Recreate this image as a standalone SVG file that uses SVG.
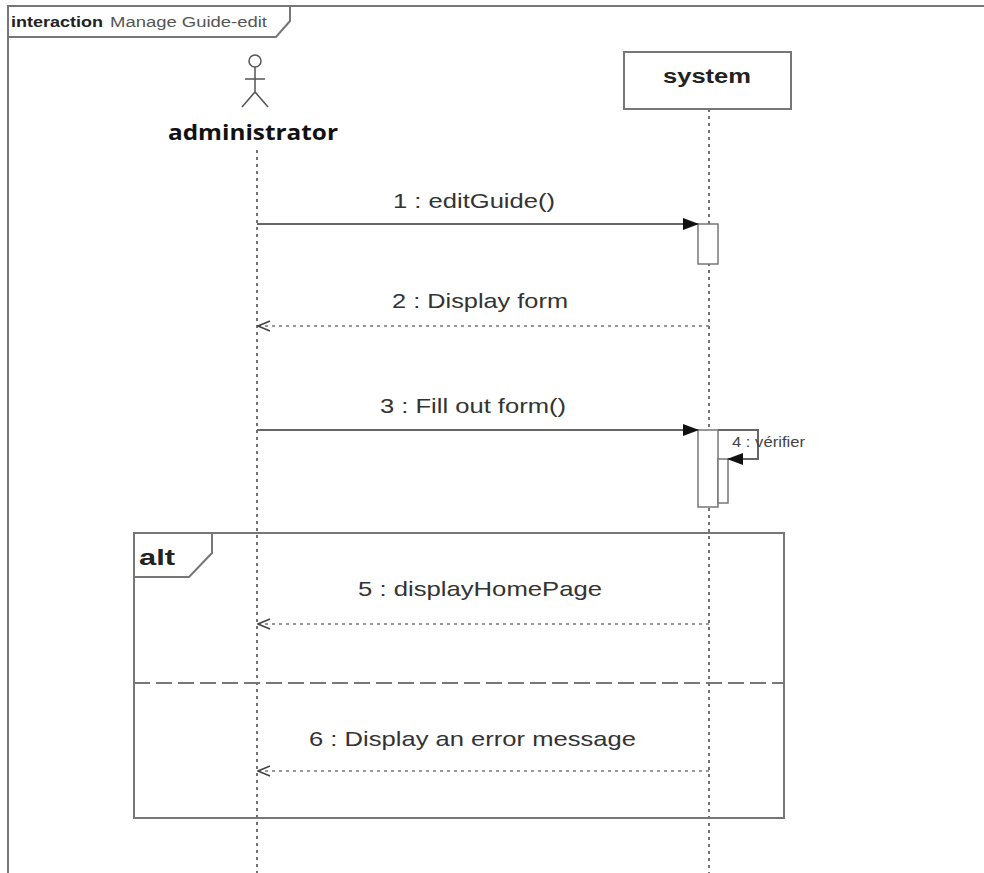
<svg xmlns="http://www.w3.org/2000/svg" width="984" height="873" viewBox="0 0 984 873">
<style>
.frame{fill:none;stroke:#777;stroke-width:2}
.life{stroke:#444;stroke-width:1.5;stroke-dasharray:3,4;fill:none}
.act{fill:#fff;stroke:#777;stroke-width:1.5}
.msg{stroke:#666;stroke-width:2;fill:none}
.ret{stroke:#777;stroke-width:1.5;stroke-dasharray:3,4;fill:none}
.lbl{font-family:"Liberation Sans",Arial,sans-serif;font-size:21px;fill:#333}
.bold{font-family:"Liberation Sans",Arial,sans-serif;font-weight:bold;fill:#222}
</style>
<defs>
<marker id="filled" markerWidth="16" markerHeight="12" refX="15" refY="6" orient="auto" markerUnits="userSpaceOnUse">
<path d="M0,0 L16,6 L0,12 Z" fill="#111"/>
</marker>
<marker id="open" markerWidth="14" markerHeight="12" refX="13" refY="6" orient="auto" markerUnits="userSpaceOnUse">
<path d="M1,1 L13,6 L1,11" fill="none" stroke="#444" stroke-width="1.5"/>
</marker>
</defs>
<rect width="984" height="873" fill="#fff"/>
<g id="frame">
<path class="frame" d="M8,880 L8,6 L990,6"/>
<path class="frame" d="M8,37 L276,37 L290,21 L290,6"/>
<text x="11" y="27" class="bold" font-size="14" textLength="92" lengthAdjust="spacingAndGlyphs">interaction</text>
<text x="110" y="27" font-family="Liberation Sans,Arial,sans-serif" font-size="14" fill="#555" textLength="157" lengthAdjust="spacingAndGlyphs">Manage Guide-edit</text>
</g>
<g id="administrator">
<circle cx="255" cy="61" r="6" fill="#fff" stroke="#555" stroke-width="1.5"/>
<path d="M255,67 V92 M245,79 H265 M242,107 L255,92 L268,107" fill="none" stroke="#555" stroke-width="1.5"/>
<text x="168" y="140" font-family="Open Sans,Noto Sans,sans-serif" font-weight="bold" font-size="21" fill="#111" textLength="170" lengthAdjust="spacingAndGlyphs">administrator</text>
<line class="life" x1="257" y1="150" x2="257" y2="873"/>
</g>
<g id="system">
<line class="life" x1="709" y1="109" x2="709" y2="873"/>
<rect x="624" y="52" width="167" height="57" fill="#fff" stroke="#777" stroke-width="2"/>
<text x="663" y="83" class="bold" font-size="20" textLength="88" lengthAdjust="spacingAndGlyphs">system</text>
<rect class="act" x="698" y="224" width="20" height="40"/>
<rect class="act" x="698" y="430" width="20" height="77"/>
<rect class="act" x="718" y="459" width="10" height="44"/>
</g>
<g id="alt">
<rect class="frame" x="134" y="533" width="650" height="285"/>
<path class="frame" d="M134,577 L189,577 L212,553 L212,533"/>
<text x="139" y="565" class="bold" font-size="22" textLength="36" lengthAdjust="spacingAndGlyphs">alt</text>
<line x1="134" y1="683" x2="784" y2="683" stroke="#777" stroke-width="2" stroke-dasharray="16,6"/>
</g>
<g id="connectors">
<line class="msg" x1="257" y1="224" x2="698" y2="224" marker-end="url(#filled)"/>
<text class="lbl" x="393" y="208" textLength="162" lengthAdjust="spacingAndGlyphs">1 : editGuide()</text>
<line class="ret" x1="709" y1="326" x2="258" y2="326" marker-end="url(#open)"/>
<text class="lbl" x="392" y="308" textLength="176" lengthAdjust="spacingAndGlyphs">2 : Display form</text>
<line class="msg" x1="257" y1="430" x2="698" y2="430" marker-end="url(#filled)"/>
<text class="lbl" x="380" y="413" textLength="186" lengthAdjust="spacingAndGlyphs">3 : Fill out form()</text>
<path class="msg" d="M718,430 H758 V459 H728" stroke-width="1.5" marker-end="url(#filled)"/>
<text x="732" y="447" font-family="Liberation Sans,Arial,sans-serif" font-size="14" fill="#444" textLength="73" lengthAdjust="spacingAndGlyphs">4 : vérifier</text>
<line class="ret" x1="709" y1="624" x2="258" y2="624" marker-end="url(#open)"/>
<text class="lbl" x="358" y="596" textLength="244" lengthAdjust="spacingAndGlyphs">5 : displayHomePage</text>
<line class="ret" x1="709" y1="771" x2="258" y2="771" marker-end="url(#open)"/>
<text class="lbl" x="309" y="746" textLength="327" lengthAdjust="spacingAndGlyphs">6 : Display an error message</text>
</g>
</svg>
